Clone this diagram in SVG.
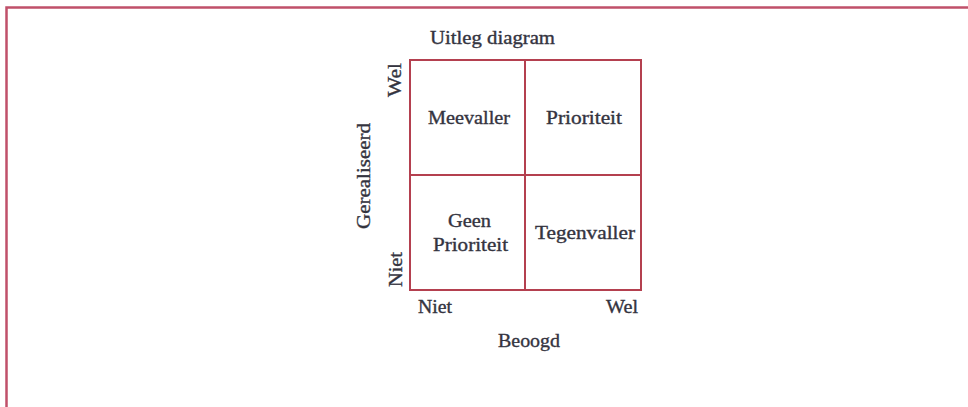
<svg xmlns="http://www.w3.org/2000/svg" width="968" height="407" viewBox="0 0 968 407">
<style>
text{font-family:"Liberation Serif","Times New Roman",serif;font-size:18px;fill:#34343f;stroke:#34343f;stroke-width:0.35}
.grid{fill:none;stroke:#b4404f;stroke-width:2}
.frame{fill:none;stroke:#c0506a;stroke-width:2.5}
</style>
<rect width="968" height="407" fill="#ffffff"/>
<g id="frame"><path class="frame" d="M6.5,407 V7.5 H968"/></g>
<g id="title"><text x="430" y="44" textLength="125" lengthAdjust="spacingAndGlyphs">Uitleg diagram</text></g>
<g id="connectors">
<rect class="grid" x="410" y="60" width="231" height="230"/>
<line class="grid" x1="525" y1="60" x2="525" y2="290"/>
<line class="grid" x1="410" y1="175" x2="641" y2="175"/>
</g>
<g id="meevaller"><text x="428" y="124" textLength="82" lengthAdjust="spacingAndGlyphs">Meevaller</text></g>
<g id="prioriteit"><text x="546" y="124" textLength="76" lengthAdjust="spacingAndGlyphs">Prioriteit</text></g>
<g id="geen-prioriteit"><text x="448" y="227" textLength="43" lengthAdjust="spacingAndGlyphs">Geen</text><text x="433" y="251" textLength="75" lengthAdjust="spacingAndGlyphs">Prioriteit</text></g>
<g id="tegenvaller"><text x="535" y="239" textLength="100" lengthAdjust="spacingAndGlyphs">Tegenvaller</text></g>
<g id="x-axis">
<text x="418" y="313" textLength="34" lengthAdjust="spacingAndGlyphs">Niet</text>
<text x="606" y="313" textLength="32" lengthAdjust="spacingAndGlyphs">Wel</text>
<text x="498" y="347" textLength="62" lengthAdjust="spacingAndGlyphs">Beoogd</text>
</g>
<g id="y-axis">
<text transform="translate(401,97) rotate(-90)" textLength="34" lengthAdjust="spacingAndGlyphs">Wel</text>
<text transform="translate(402,287) rotate(-90)" textLength="35" lengthAdjust="spacingAndGlyphs">Niet</text>
<text transform="translate(370,229) rotate(-90)" textLength="106" lengthAdjust="spacingAndGlyphs">Gerealiseerd</text>
</g>
</svg>
